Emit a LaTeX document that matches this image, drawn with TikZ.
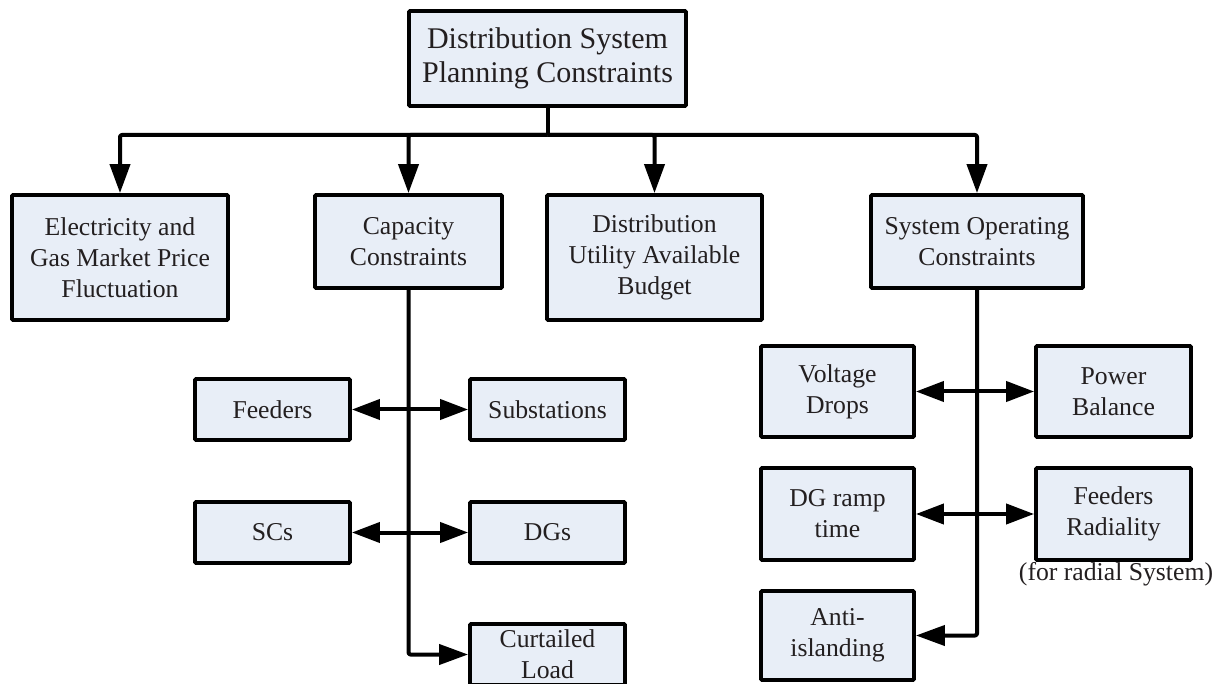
\documentclass[tikz,border=0pt]{standalone}
\usepackage{fontspec}
\setmainfont{Liberation Serif}
\usetikzlibrary{arrows.meta}
\definecolor{boxfill}{RGB}{232,238,247}
\definecolor{txt}{RGB}{35,31,32}
\tikzset{
  box/.style={draw=black, fill=boxfill, line width=3.8pt, rounded corners=1pt,
    align=center, text=txt, inner sep=0pt, anchor=center,
    font=\fontsize{25.7}{31}\selectfont},
  conn/.style={line width=4pt, line join=round, rounded corners=2pt,
    -{Triangle[length=29pt,width=20pt]}},
  dconn/.style={line width=4pt,
    {Triangle[length=28pt,width=20pt]}-{Triangle[length=28pt,width=20pt]}},
  plain/.style={line width=4pt, line join=round},
}
\begin{document}
\begin{tikzpicture}[x=1pt,y=-1pt]
\useasboundingbox (0,0) rectangle (1216,684);
\clip (0,0) rectangle (1216,684);
% top
\node[box, minimum width=277pt, minimum height=95pt, font=\fontsize{30}{34}\selectfont] (top) at (547.5,58.5)
  {Distribution System\\Planning Constraints};
% level 2
\node[box, minimum width=216pt, minimum height=125pt] (elec) at (120,257.5)
  {Electricity and\\Gas Market Price\\Fluctuation};
\node[box, minimum width=187pt, minimum height=93pt] (cap) at (408.5,241.5)
  {Capacity\\Constraints};
\node[box, minimum width=215pt, minimum height=125pt] (dist) at (654.5,257.5)
  {Distribution\\Utility Available\\Budget};
\node[box, minimum width=212pt, minimum height=93pt] (sys) at (977,241.5)
  {System Operating\\Constraints};
% capacity children
\node[box, minimum width=155pt, minimum height=61pt] (feed) at (272.5,409.5) {Feeders};
\node[box, minimum width=155pt, minimum height=61pt] (subst) at (547.5,409.5) {Substations};
\node[box, minimum width=155pt, minimum height=61pt] (scs) at (272.5,532.5) {SCs};
\node[box, minimum width=155pt, minimum height=61pt] (dgs) at (547.5,532.5) {DGs};
\node[box, minimum width=155pt, minimum height=61pt] (curt) at (547.5,654.5) {Curtailed\\Load};
% operating children
\node[box, minimum width=153pt, minimum height=91pt] (volt) at (837.5,391.5) {Voltage\\Drops};
\node[box, minimum width=155pt, minimum height=91pt] (pow) at (1113.5,391.5) {Power\\Balance};
\node[box, minimum width=153pt, minimum height=92pt] (ramp) at (837.5,514) {DG ramp\\time};
\node[box, minimum width=155pt, minimum height=92pt] (rad) at (1113.5,514) {Feeders\\Radiality};
\node[box, minimum width=153pt, minimum height=89pt] (anti) at (837.5,635.5) {Anti-\\islanding};
\node[text=txt, font=\fontsize{25.7}{31}\selectfont, anchor=base, inner sep=0pt] (note) at (1116,580) {(for radial System)};
% bus
\coordinate (bus) at (547.5,135);
\draw[plain] (top.south) -- (bus);
\draw[conn] (bus) -| (elec.north);
\draw[conn] (bus) -| (cap.north);
\draw[conn] (bus) -| (dist.north);
\draw[conn] (bus) -| (sys.north);
% capacity branch
\draw[conn] (cap.south) |- (curt.west);
\draw[dconn] (feed.east) -- (subst.west);
\draw[dconn] (scs.east) -- (dgs.west);
% operating branch
\draw[conn] (sys.south) |- (anti.east);
\draw[dconn] (volt.east) -- (pow.west);
\draw[dconn] (ramp.east) -- (rad.west);
\end{tikzpicture}
\end{document}
